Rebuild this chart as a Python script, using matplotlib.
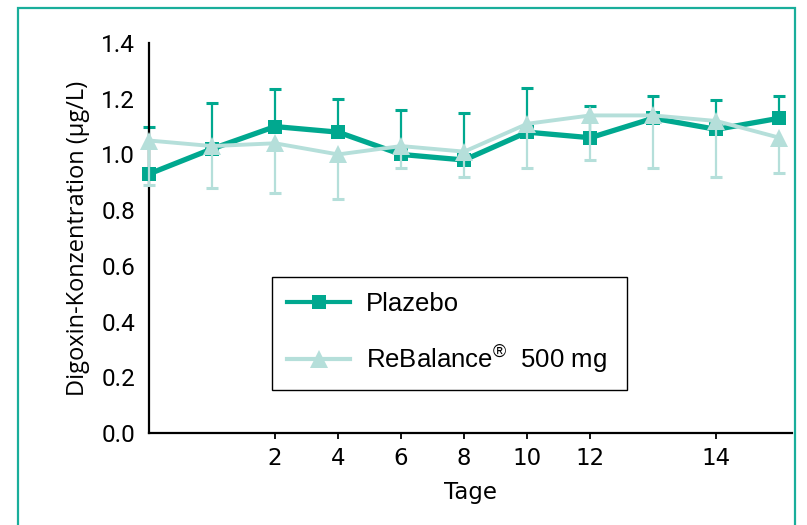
import matplotlib
matplotlib.use("Agg")
import matplotlib.pyplot as plt
from matplotlib.patches import Rectangle
from matplotlib.ticker import FixedLocator
import numpy as np

# ---- data ----
visit_labels = ["", "", "2", "4", "6", "8", "10", "12", "", "14", ""]
plazebo = [0.93, 1.02, 1.10, 1.08, 1.00, 0.98, 1.08, 1.06, 1.13, 1.09, 1.13]
plazebo_sd_up = [0.17, 0.165, 0.135, 0.12, 0.16, 0.17, 0.16, 0.115, 0.08, 0.105, 0.08]
rebalance = [1.05, 1.03, 1.04, 1.00, 1.03, 1.01, 1.11, 1.14, 1.14, 1.12, 1.06]
rebalance_sd_down = [0.16, 0.15, 0.18, 0.16, 0.08, 0.09, 0.16, 0.16, 0.19, 0.20, 0.125]
y_ticks = [0.0, 0.2, 0.4, 0.6, 0.8, 1.0, 1.2, 1.4]
series_names = ["Plazebo", "ReBalance$^{\\circledR}$  500 mg"]

DARK = "#00a88f"
LIGHT = "#b5dfda"
FRAME = "#19ae9b"

plt.rcParams["mathtext.fontset"] = "custom"
plt.rcParams["mathtext.rm"] = "Liberation Sans"

x = np.arange(len(visit_labels))
p = np.array(plazebo)
pu = np.array(plazebo_sd_up)
r = np.array(rebalance)
rd = np.array(rebalance_sd_down)

fig = plt.figure(figsize=(8.07, 5.25), dpi=100)
ax = fig.add_axes([149/807, (525-433)/525, (792-149)/807, 390/525])

# outer teal frame
fig.patches.append(Rectangle((18/807, -0.1), (795-18)/807, (525-8)/525 + 0.1,
                             transform=fig.transFigure, fill=False,
                             edgecolor=FRAME, linewidth=1.6))

# Plazebo: upward error bars
ax.errorbar(x, p, yerr=[np.zeros_like(pu), pu], fmt="none", ecolor=DARK,
            elinewidth=1.6, capsize=0, zorder=2, clip_on=False)
ax.plot(x, p + pu, ls="none", marker="_", ms=9, mew=2.2, color=DARK,
        zorder=2, clip_on=False)
lp, = ax.plot(x, p, color=DARK, lw=3.8, marker="s", ms=10, mew=0,
              zorder=3, clip_on=False, label=series_names[0])

# ReBalance: downward error bars
ax.errorbar(x, r, yerr=[rd, np.zeros_like(rd)], fmt="none", ecolor=LIGHT,
            elinewidth=1.6, capsize=0, zorder=4, clip_on=False)
ax.plot(x, r - rd, ls="none", marker="_", ms=9, mew=2.2, color=LIGHT,
        zorder=4, clip_on=False)
lr, = ax.plot(x, r, color=LIGHT, lw=2.8, marker="^", ms=13, mew=0,
              zorder=5, clip_on=False, label=series_names[1])

ax.set_xlim(0, 10.2)
ax.set_ylim(0, 1.4)

# axes styling
for s in ["top", "right"]:
    ax.spines[s].set_visible(False)
for s in ["left", "bottom"]:
    ax.spines[s].set_linewidth(1.6)
    ax.spines[s].set_color("black")

cond = ["Liberation Sans Narrow", "DejaVu Sans Condensed"]
tick_pos = [i for i, l in enumerate(visit_labels) if l]
ax.set_xticks(tick_pos)
ax.set_xticklabels([visit_labels[i] for i in tick_pos], fontfamily=cond, fontsize=16.5)
ax.tick_params(axis="x", direction="out", length=4, width=1.3, pad=6)

ax.set_yticks(y_ticks)
ax.set_yticklabels([f"{v:.1f}" for v in y_ticks], fontfamily="Roboto", fontsize=17.5)
ax.tick_params(axis="y", which="major", length=0, pad=10)
ax.yaxis.set_minor_locator(FixedLocator([0.0, 1.4]))
ax.tick_params(axis="y", which="minor", direction="in", length=9, width=1.6)

ax.set_xlabel("Tage", fontfamily=cond, fontsize=16.5, labelpad=8)
ax.set_ylabel("Digoxin-Konzentration (µg/L)", fontfamily="Open Sans",
              fontsize=17, labelpad=8)

leg = ax.legend(handles=[lp, lr], loc="upper left",
                bbox_to_anchor=(0.191, 0.11, 0.552, 0.29), mode="expand",
                prop={"family": "Liberation Sans", "size": 18.5},
                frameon=True, fancybox=False, framealpha=1, edgecolor="black",
                borderpad=0.6, labelspacing=1.0, handlelength=2.45,
                handletextpad=0.6, borderaxespad=0)
leg.get_frame().set_linewidth(1.0)
for h in leg.legend_handles:
    h.set_linewidth(3)

fig.savefig("out.png", dpi=100)
